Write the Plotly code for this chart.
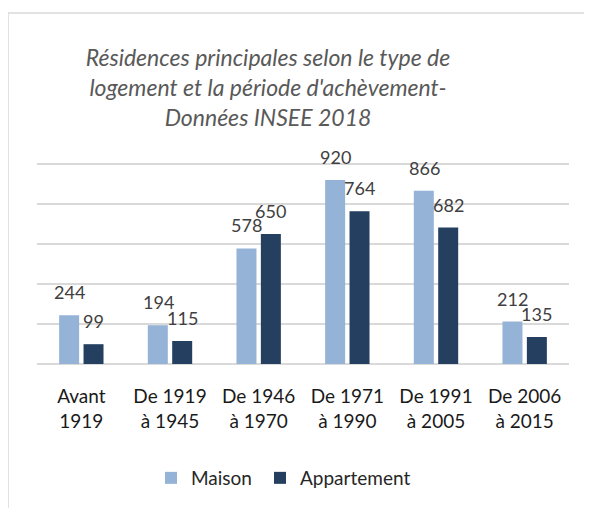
import plotly.graph_objects as go

categories = ["Avant<br>1919", "De 1919<br>à 1945", "De 1946<br>à 1970",
              "De 1971<br>à 1990", "De 1991<br>à 2005", "De 2006<br>à 2015"]
maison = [244, 194, 578, 920, 866, 212]
appartement = [99, 115, 650, 764, 682, 135]
title_text = ("Résidences principales selon le type de<br>"
              "logement et la période d'achèvement-<br>"
              "Données INSEE 2018")

W, H = 592, 508
OFF = 8  # page body margin
YMAX = 1020
L, R, B = 37 - OFF, 569 - OFF, 364 - OFF
T = B - 200 * YMAX / 1000  # 1000 sits 200 px above the baseline

fig = go.Figure()
fig.add_trace(go.Bar(name="Maison", x=categories, y=maison, legend="legend",
                     marker=dict(color="#95B3D7", line=dict(width=0))))
fig.add_trace(go.Bar(name="Appartement", x=categories, y=appartement, legend="legend2",
                     marker=dict(color="#243F60", line=dict(width=0))))

annotations = []
for vals, shift in ((maison, -12), (appartement, 12)):
    for c, v in zip(categories, vals):
        annotations.append(dict(x=c, y=v, xref="x", yref="y", text=str(v),
                                showarrow=False, xshift=shift, yshift=23,
                                yanchor="middle", xanchor="center",
                                font=dict(family="Lato", size=18, color="#404040")))

pw, ph = R - L, B - T
def px(x): return (x - OFF - L) / pw
def py(y): return (B - (y - OFF)) / ph

legfont = dict(family="Lato", size=19, color="#262626")
fig.update_layout(
    width=W, height=H,
    margin=dict(l=L, r=W - R, t=T, b=H - B),
    paper_bgcolor="white", plot_bgcolor="white",
    barmode="group", bargap=0.45, bargroupgap=0.18,
    title=dict(text=title_text, x=260 / W, xanchor="center", xref="container",
               y=1 - 58 / H, yanchor="top",
               font=dict(family="Lato", size=23, color="#595959", style="italic")),
    showlegend=True,
    legend=dict(orientation="h", x=px(165 - 14), xanchor="left", y=py(478), yanchor="middle",
                font=legfont, bgcolor="rgba(0,0,0,0)"),
    legend2=dict(orientation="h", x=px(274 - 14), xanchor="left", y=py(478), yanchor="middle",
                 font=legfont, bgcolor="rgba(0,0,0,0)"),
    annotations=annotations,
    shapes=[dict(type="rect", xref="paper", yref="paper",
                 x0=px(8), x1=px(620), y0=py(540), y1=py(13),
                 line=dict(color="#D9D9D9", width=1.5), fillcolor="rgba(0,0,0,0)", layer="below")],
)
fig.update_xaxes(showgrid=False, showline=False, zeroline=False,
                 ticks="outside", ticklen=15, tickcolor="rgba(0,0,0,0)",
                 tickfont=dict(family="Lato", size=19, color="#1a1a1a"))
fig.update_yaxes(range=[0, YMAX], tickvals=[0, 200, 400, 600, 800, 1000], showticklabels=False,
                 showgrid=True, gridcolor="#D9D9D9", gridwidth=1.5,
                 zeroline=True, zerolinecolor="#D9D9D9", zerolinewidth=1.5)

fig.write_html("out.html")
